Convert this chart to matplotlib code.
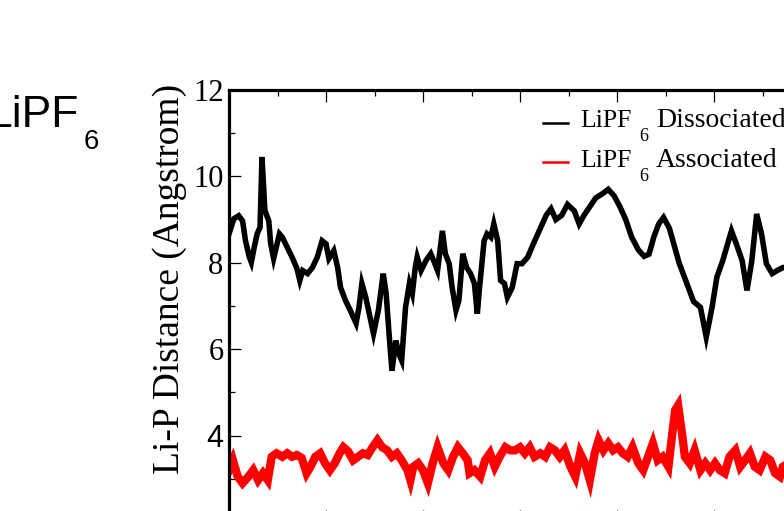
import numpy as np
import matplotlib
matplotlib.use("Agg")
import matplotlib.pyplot as plt
from matplotlib.ticker import MultipleLocator

# Li-P distance trajectories (time in ns, distance in Angstrom)
t_dissoc = [0.00, 0.05, 0.10, 0.14, 0.17, 0.21, 0.23, 0.26, 0.29, 0.32,
            0.34, 0.37, 0.41, 0.43, 0.46, 0.52, 0.55, 0.60, 0.65, 0.70,
            0.73, 0.76, 0.81, 0.86, 0.91, 0.96, 1.00, 1.03, 1.08, 1.12,
            1.15, 1.20, 1.25, 1.31, 1.34, 1.37, 1.41, 1.46, 1.49, 1.54,
            1.59, 1.62, 1.65, 1.68, 1.72, 1.75, 1.78, 1.82, 1.86, 1.89,
            1.92, 1.94, 1.98, 2.03, 2.08, 2.11, 2.15, 2.20, 2.23, 2.27,
            2.30, 2.34, 2.37, 2.41, 2.45, 2.49, 2.53, 2.56, 2.58, 2.63,
            2.66, 2.70, 2.73, 2.77, 2.80, 2.84, 2.87, 2.92, 2.97, 3.02,
            3.08, 3.13, 3.21, 3.27, 3.32, 3.37, 3.43, 3.49, 3.56, 3.61,
            3.66, 3.72, 3.78, 3.85, 3.91, 3.97, 4.03, 4.09, 4.15, 4.22,
            4.28, 4.33, 4.38, 4.43, 4.48, 4.54, 4.59, 4.64, 4.69, 4.74,
            4.79, 4.86, 4.92, 4.98, 5.03, 5.09, 5.18, 5.23, 5.29, 5.34,
            5.39, 5.44, 5.49, 5.54, 5.60, 5.65, 5.71, 5.80, 5.90, 6.00]
d_dissoc = [8.67, 9.02, 9.09, 8.97, 8.51, 8.13, 8.01, 8.36, 8.67, 8.82,
            10.45, 9.21, 8.97, 8.44, 8.10, 8.67, 8.59, 8.36, 8.13, 7.87,
            7.59, 7.82, 7.75, 7.89, 8.13, 8.51, 8.44, 8.10, 8.28, 7.89,
            7.43, 7.13, 6.90, 6.60, 6.97, 7.52, 7.20, 6.67, 6.36, 6.90,
            7.75, 7.29, 6.36, 5.50, 6.20, 5.90, 5.74, 6.97, 7.52, 7.29,
            7.89, 8.13, 7.82, 8.05, 8.21, 8.05, 7.82, 8.74, 8.21, 7.98,
            7.43, 6.90, 7.13, 8.21, 7.89, 7.75, 7.52, 6.82, 7.36, 8.51,
            8.67, 8.59, 8.90, 8.51, 7.59, 7.52, 7.20, 7.43, 7.98, 7.98,
            8.13, 8.40, 8.80, 9.10, 9.25, 9.00, 9.10, 9.35, 9.20, 8.90,
            9.10, 9.30, 9.50, 9.60, 9.70, 9.55, 9.30, 9.00, 8.60, 8.30,
            8.15, 8.20, 8.60, 8.90, 9.05, 8.80, 8.40, 8.00, 7.70, 7.40,
            7.10, 6.97, 6.28, 6.97, 7.67, 8.05, 8.74, 8.44, 8.05, 7.36,
            8.05, 9.13, 8.67, 7.98, 7.75, 7.82, 7.89, 7.90, 8.00, 8.10]

t_assoc = [0.00, 0.04, 0.09, 0.14, 0.20, 0.25, 0.30, 0.35, 0.40, 0.44,
           0.49, 0.55, 0.60, 0.65, 0.70, 0.75, 0.80, 0.84, 0.89, 0.94,
           0.99, 1.04, 1.09, 1.14, 1.18, 1.23, 1.28, 1.33, 1.38, 1.43,
           1.48, 1.53, 1.58, 1.63, 1.68, 1.73, 1.78, 1.84, 1.87, 1.90,
           1.95, 2.00, 2.05, 2.10, 2.15, 2.21, 2.26, 2.31, 2.36, 2.41,
           2.46, 2.48, 2.53, 2.59, 2.64, 2.69, 2.74, 2.79, 2.85, 2.90,
           2.95, 3.00, 3.05, 3.10, 3.15, 3.21, 3.26, 3.31, 3.36, 3.41,
           3.46, 3.52, 3.57, 3.62, 3.67, 3.72, 3.77, 3.81, 3.86, 3.91,
           3.96, 4.01, 4.06, 4.11, 4.16, 4.22, 4.27, 4.32, 4.37, 4.42,
           4.47, 4.53, 4.57, 4.60, 4.63, 4.67, 4.70, 4.75, 4.80, 4.86,
           4.91, 4.96, 5.01, 5.06, 5.11, 5.16, 5.22, 5.27, 5.32, 5.37,
           5.42, 5.47, 5.53, 5.58, 5.63, 5.68, 5.71, 5.80, 5.90, 6.00]
d_assoc = [3.20, 3.43, 3.05, 2.90, 3.05, 3.20, 2.97, 3.13, 2.97, 3.51,
           3.59, 3.51, 3.59, 3.51, 3.55, 3.48, 3.13, 3.28, 3.51, 3.59,
           3.36, 3.20, 3.36, 3.59, 3.73, 3.63, 3.43, 3.51, 3.59, 3.55,
           3.73, 3.89, 3.73, 3.66, 3.51, 3.59, 3.43, 3.20, 2.97, 3.28,
           3.36, 3.20, 2.90, 3.36, 3.73, 3.36, 3.20, 3.51, 3.73, 3.59,
           3.43, 3.13, 3.20, 3.05, 3.43, 3.59, 3.28, 3.51, 3.73, 3.66,
           3.66, 3.73, 3.59, 3.73, 3.51, 3.59, 3.51, 3.73, 3.66, 3.51,
           3.66, 3.28, 3.05, 3.59, 3.36, 2.97, 3.59, 3.89, 3.66, 3.82,
           3.66, 3.73, 3.59, 3.51, 3.73, 3.36, 3.20, 3.51, 3.82, 3.43,
           3.51, 3.28, 4.05, 4.59, 4.70, 4.05, 3.51, 3.36, 3.66, 3.20,
           3.36, 3.20, 3.36, 3.20, 3.13, 3.51, 3.66, 3.28, 3.43, 3.59,
           3.28, 3.20, 3.51, 3.43, 3.13, 3.05, 3.28, 3.40, 3.30, 3.40]

y_ticks = [2, 4, 6, 8, 10, 12]
y_labels = ["2", "4", "6", "8", "10", "12"]

serif = "Liberation Serif"
sans = "Liberation Sans"

W, H = 784, 511
fig = plt.figure(figsize=(W / 100, H / 100), dpi=100)
ax = fig.add_axes([229 / W, 1 - 522 / H, 582 / W, 432 / H])

ax.plot(t_dissoc, d_dissoc, color="black", lw=4.0, solid_joinstyle="miter")
ax.plot(t_assoc, d_assoc, color="red", lw=6.0, solid_joinstyle="miter")

ax.set_xlim(0, 6)
ax.set_ylim(2, 12)
ax.xaxis.set_major_locator(MultipleLocator(1))
ax.xaxis.set_minor_locator(MultipleLocator(0.5))
ax.set_yticks(y_ticks)
ax.yaxis.set_minor_locator(MultipleLocator(1))
ax.tick_params(which="both", direction="in", top=True, right=True, width=0.9,
               labelbottom=False)
ax.tick_params(which="major", length=8.5, pad=4)
ax.tick_params(which="minor", length=4.3)
labels = ax.set_yticklabels(y_labels, fontsize=22, fontfamily=serif)
for lab in labels:
    if lab.get_text() == "4":
        lab.set_fontfamily(sans)
for sp in ax.spines.values():
    sp.set_linewidth(2.3)

fig.text(170 / W, 1 - 279 / H, "Li-P Distance (Angstrom)", rotation=90,
         ha="center", va="center", fontsize=27, fontfamily=serif)

# legend, drawn by hand to get the low subscripts
def legend_row(y_line, y_base, color, word):
    ax.plot([(543 - 229) / 582, (568 - 229) / 582], [(522 - y_line) / 432] * 2,
            transform=ax.transAxes, color=color, lw=1.8, clip_on=False)
    ax.text((580 - 229) / 582, (522 - y_base) / 432, "LiPF", transform=ax.transAxes,
            fontsize=18.5, fontfamily=serif, va="baseline")
    ax.text((639 - 229) / 582, (522 - y_base - 14) / 432, "6", transform=ax.transAxes,
            fontsize=13, fontfamily=serif, va="baseline")
    ax.text((656 - 229) / 582, (522 - y_base) / 432, word, transform=ax.transAxes,
            fontsize=20, fontfamily=serif, va="baseline")

legend_row(123, 127, "black", "Dissociated")
legend_row(162, 167, "red", "Associated")

# panel title
fig.text(-13 / W, 1 - 127 / H, "LiPF", fontsize=32, fontfamily=sans, va="baseline")
fig.text(84 / W, 1 - 149 / H, "6", fontsize=20, fontfamily=sans, va="baseline")

fig.savefig("out.png", dpi=100)
